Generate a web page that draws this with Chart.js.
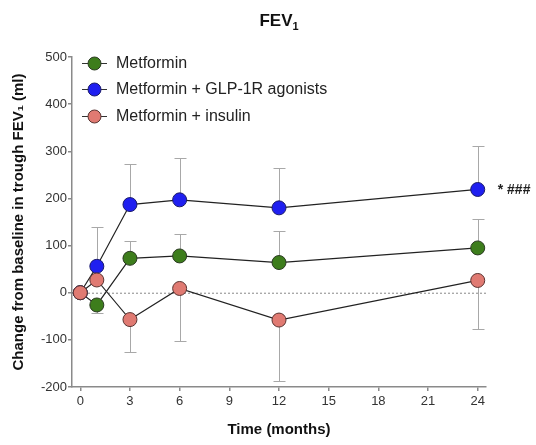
<!DOCTYPE html>
<html>
<head>
<meta charset="utf-8">
<script src="https://cdn.jsdelivr.net/npm/chart.js@4.4.1/dist/chart.umd.min.js"></script>
<style>
  html, body { margin: 0; padding: 0; background: #fff; }
  #wrap { width: 536px; height: 445px; }
</style>
</head>
<body>
<div id="wrap"><canvas id="fev-chart"></canvas></div>
<script>
// months of follow-up
const months = [0, 1, 3, 6, 12, 24];
const xTicks = [0, 3, 6, 9, 12, 15, 18, 21, 24];

// mean change (ml)
const metformin = [0, -26, 73, 78, 64, 95];
const metforminGlp = [0, 56, 187, 197, 180, 219];
const metforminInsulin = [0, 27, -57, 9, -58, 26];

// error bar ends (one-sided in the original, null = not drawn)
const metforminErrHigh = [null, null, 109, 125, 130, 157];
const metforminErrLow = [null, -43, null, null, null, null];
const glpErrHigh = [null, 139, 272, 286, 264, 312];
const glpErrLow = [null, null, null, null, null, null];
const insulinErrHigh = [null, null, null, null, null, null];
const insulinErrLow = [null, null, -126, -103, -187, -78];

const seriesNames = ['Metformin', 'Metformin + GLP-1R agonists', 'Metformin + insulin'];
const seriesColors = ['#3d7d1c', '#1f1ff0', '#e07a72'];
const seriesBorders = ['#2b3a22', '#1a1a6a', '#5a3330'];
const significance = '* ###';

const FONT = "'Liberation Sans', Arial, Helvetica, sans-serif";

function toPoints(values) {
  return months.map((m, i) => ({ x: m, y: values[i] }));
}

const errBars = [
  { high: metforminErrHigh, low: metforminErrLow, values: metformin },
  { high: glpErrHigh, low: glpErrLow, values: metforminGlp },
  { high: insulinErrHigh, low: insulinErrLow, values: metforminInsulin }
];

// error bars + dotted zero line, under the markers
const underlayPlugin = {
  id: 'underlay',
  beforeDatasetsDraw(chart) {
    const { ctx, scales: { x, y }, chartArea } = chart;
    ctx.save();
    // zero line
    ctx.strokeStyle = '#888';
    ctx.lineWidth = 1;
    ctx.setLineDash([2, 2]);
    ctx.beginPath();
    ctx.moveTo(chartArea.left, y.getPixelForValue(0) + 0.5);
    ctx.lineTo(chartArea.right, y.getPixelForValue(0) + 0.5);
    ctx.stroke();
    ctx.setLineDash([]);

    // error bars
    ctx.strokeStyle = '#a8a8a8';
    ctx.lineWidth = 1;
    errBars.forEach(s => {
      months.forEach((m, i) => {
        const px = Math.round(x.getPixelForValue(m)) + 0.5;
        const py = y.getPixelForValue(s.values[i]);
        [s.high[i], s.low[i]].forEach(end => {
          if (end === null) return;
          const pe = Math.round(y.getPixelForValue(end)) + 0.5;
          ctx.beginPath();
          ctx.moveTo(px, py);
          ctx.lineTo(px, pe);
          ctx.moveTo(px - 6, pe);
          ctx.lineTo(px + 6, pe);
          ctx.stroke();
        });
      });
    });
    ctx.restore();
  }
};

// legend inside the plot, title, significance marks
const overlayPlugin = {
  id: 'overlay',
  afterDraw(chart) {
    const { ctx, scales: { x, y }, chartArea } = chart;
    ctx.save();

    // title with subscript
    ctx.fillStyle = '#111';
    ctx.font = `bold 17px ${FONT}`;
    ctx.textBaseline = 'alphabetic';
    const tw = ctx.measureText('FEV').width;
    ctx.font = `bold 11px ${FONT}`;
    const sw = ctx.measureText('1').width;
    const tx = (chartArea.left + chartArea.right) / 2 - (tw + sw) / 2;
    ctx.font = `bold 17px ${FONT}`;
    ctx.textAlign = 'left';
    ctx.fillText('FEV', tx, 26);
    ctx.font = `bold 11px ${FONT}`;
    ctx.fillText('1', tx + tw, 30);

    // legend
    const rows = [63, 89, 116];
    seriesNames.forEach((name, i) => {
      const ly = rows[i];
      ctx.strokeStyle = '#333';
      ctx.lineWidth = 1;
      ctx.beginPath();
      ctx.moveTo(82, ly + 0.5);
      ctx.lineTo(107, ly + 0.5);
      ctx.stroke();
      ctx.beginPath();
      ctx.arc(94.5, ly + 0.5, 6.5, 0, Math.PI * 2);
      ctx.fillStyle = seriesColors[i];
      ctx.fill();
      ctx.strokeStyle = seriesBorders[i];
      ctx.stroke();
      ctx.fillStyle = '#222';
      ctx.font = `16px ${FONT}`;
      ctx.textBaseline = 'middle';
      ctx.fillText(name, 116, ly + 1);
    });

    // significance next to last GLP-1R point
    const last = months.length - 1;
    ctx.fillStyle = '#222';
    ctx.font = `bold 14px ${FONT}`;
    ctx.textBaseline = 'middle';
    ctx.fillText(significance, x.getPixelForValue(months[last]) + 20, y.getPixelForValue(metforminGlp[last]) + 1);
    ctx.restore();
  }
};

function makeDataset(i, values, order) {
  return {
    label: seriesNames[i],
    data: toPoints(values),
    borderColor: '#222',
    borderWidth: 1.2,
    pointRadius: 7,
    pointHoverRadius: 7,
    pointBackgroundColor: seriesColors[i],
    pointBorderColor: seriesBorders[i],
    pointBorderWidth: 1,
    tension: 0,
    order: order
  };
}

const ctx = document.getElementById('fev-chart').getContext('2d');
new Chart(ctx, {
  type: 'line',
  data: {
    datasets: [
      makeDataset(0, metformin, 3),
      makeDataset(1, metforminGlp, 2),
      makeDataset(2, metforminInsulin, 1)
    ]
  },
  options: {
    responsive: true,
    maintainAspectRatio: false,
    animation: false,
    layout: { padding: { top: 57, right: 50, bottom: 0, left: 0 } },
    plugins: {
      legend: { display: false },
      tooltip: { enabled: false },
      title: { display: false }
    },
    scales: {
      x: {
        type: 'linear',
        min: -0.5,
        max: 24.5,
        afterBuildTicks: scale => { scale.ticks = xTicks.map(v => ({ value: v })); },
        afterFit: scale => { scale.height = 58; },
        border: { color: '#8a8a8a', width: 1.5 },
        grid: { display: true, drawOnChartArea: false, drawTicks: true, tickLength: 4, color: '#8a8a8a', lineWidth: 1.5 },
        ticks: { color: '#333', font: { family: FONT, size: 13 }, padding: 3, maxRotation: 0 },
        title: {
          display: true,
          text: 'Time (months)',
          color: '#111',
          font: { family: FONT, size: 15, weight: 'bold' },
          padding: { top: 0, bottom: 6 }
        }
      },
      y: {
        min: -200,
        max: 500,
        afterFit: scale => { scale.width = 72; },
        border: { color: '#8a8a8a', width: 1.5 },
        grid: { display: true, drawOnChartArea: false, drawTicks: true, tickLength: 4, color: '#8a8a8a', lineWidth: 1.5 },
        ticks: { stepSize: 100, color: '#333', font: { family: FONT, size: 13 }, padding: 1 },
        title: {
          display: true,
          text: 'Change from baseline in trough FEV\u2081 (ml)',
          color: '#111',
          font: { family: FONT, size: 15, weight: 'bold' },
          padding: { top: 10, bottom: 0 }
        }
      }
    }
  },
  plugins: [underlayPlugin, overlayPlugin]
});
</script>
</body>
</html>
